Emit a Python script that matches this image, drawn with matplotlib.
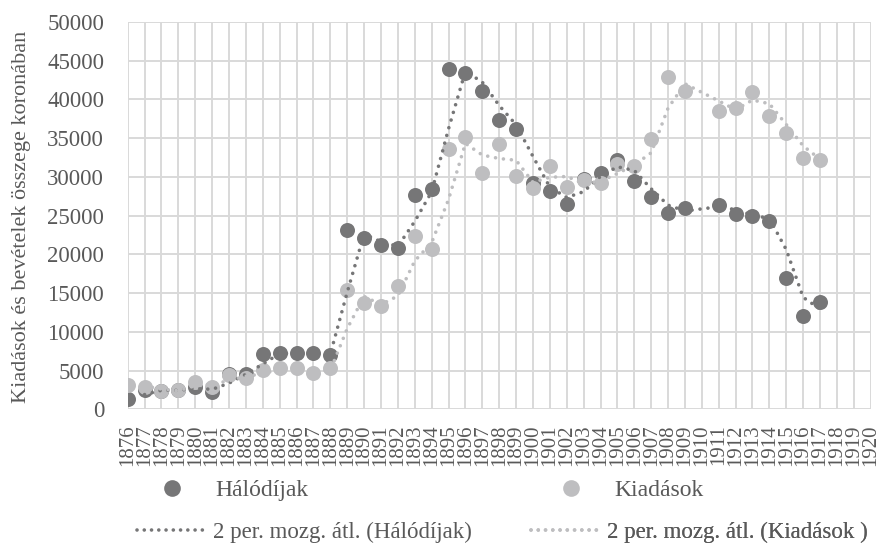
import numpy as np
import matplotlib
matplotlib.use('Agg')
import matplotlib.pyplot as plt
from matplotlib.lines import Line2D

plt.rcParams['font.family'] = ['Liberation Serif', 'DejaVu Serif']

# data (1910 has no value)
years = np.arange(1876, 1918)
halodijak = [1300, 2500, 2400, 2500, 2900, 2250, 4500, 4550, 7150, 7230,
             7230, 7230, 7020, 23200, 22050, 21220, 20870, 27650, 28500, 43930,
             43370, 41090, 37340, 36130, 29150, 28200, 26490, 29700, 30450, 32170,
             29500, 27430, 25280, 25930, np.nan, 26360, 25190, 24940, 24330, 16890,
             12020, 13860]
kiadasok = [3100, 2920, 2300, 2490, 3570, 2920, 4450, 4090, 5080, 5290,
            5350, 4650, 5380, 15460, 13690, 13340, 15930, 22390, 20630, 33550,
            35100, 30550, 34200, 30100, 28510, 31395, 28720, 29590, 29240, 31650,
            31395, 34840, 42930, 41120, np.nan, 38500, 38850, 41000, 37900, 35620,
            32390, 32170]
tick_years = np.arange(1876, 1921)
y_ticks = np.arange(0, 50001, 5000)

dark = '#767677'
light = '#BEBEC0'
txt = '#595959'


def moving_avg(xs, vals):
    # 2 period moving average, blank cells skipped
    vals = np.asarray(vals, dtype=float)
    ok = np.where(~np.isnan(vals))[0]
    mx, my = [], []
    for a, b in zip(ok[:-1], ok[1:]):
        mx.append(xs[b])
        my.append((vals[a] + vals[b]) / 2)
    return mx, my


fig = plt.figure(figsize=(8.78, 5.45), dpi=100)
ax = fig.add_axes([0.14544, 0.249, 0.84624, 0.71064])

ax.plot(years, halodijak, 'o', color=dark, markersize=10.8, mew=0, zorder=3)
ax.plot(years, kiadasok, 'o', color=light, markersize=10.8, mew=0, zorder=4)

dots = (0, (0.01, 2.2))
mx, my = moving_avg(years, halodijak)
ax.plot(mx, my, color=dark, lw=2.6, ls=dots, dash_capstyle='round', zorder=5)
mx, my = moving_avg(years, kiadasok)
ax.plot(mx, my, color=light, lw=2.6, ls=dots, dash_capstyle='round', zorder=6)

ax.set_xlim(1876, 1920)
ax.set_ylim(0, 50000)
ax.set_xticks(tick_years)
ax.set_xticklabels([str(y) for y in tick_years], rotation=90, fontsize=15, color=txt)
ax.set_yticks(y_ticks)
ax.set_yticklabels([str(v) for v in y_ticks], fontsize=16.5, color=txt)
ax.tick_params(axis='x', length=0, pad=11)
ax.tick_params(axis='y', length=0, pad=17)
ax.grid(True, color='#D9D9D9', lw=1.4)
ax.set_axisbelow(True)
for s in ax.spines.values():
    s.set_visible(False)

ax.set_ylabel('Kiadások és bevételek összege koronában', fontsize=16, color=txt)
ax.yaxis.set_label_coords(-0.130, 0.497)

# legend, one entry per block
dots_leg = (0, (0.01, 2.0))
entries = [
    (Line2D([], [], marker='o', ls='none', color=dark, markersize=12, mew=0), 'Hálódíjak',
     159.9, 490.5, 1.0, 1.33, 17),
    (Line2D([], [], marker='o', ls='none', color=light, markersize=12, mew=0), 'Kiadások',
     559.0, 490.5, 1.0, 1.33, 17),
    (Line2D([], [], color=dark, lw=2.6, ls=dots_leg, dash_capstyle='round'), '2 per. mozg. átl. (Hálódíjak)',
     137, 532.5, 3.05, 0.25, 16.5),
    (Line2D([], [], color=light, lw=2.6, ls=dots_leg, dash_capstyle='round'), '2 per. mozg. átl. (Kiadások )',
     531, 532.5, 3.05, 0.25, 16.5),
]
for h, lab, px, py, hl, hp, fs in entries:
    leg = ax.legend(handles=[h], labels=[lab], loc='center left',
                    bbox_to_anchor=(px / 878, 1 - py / 545), bbox_transform=fig.transFigure,
                    frameon=False, fontsize=fs, handlelength=hl, handletextpad=hp,
                    borderpad=0, borderaxespad=0, numpoints=1, labelcolor=txt)
    ax.add_artist(leg)

fig.savefig('out.png', dpi=100)
